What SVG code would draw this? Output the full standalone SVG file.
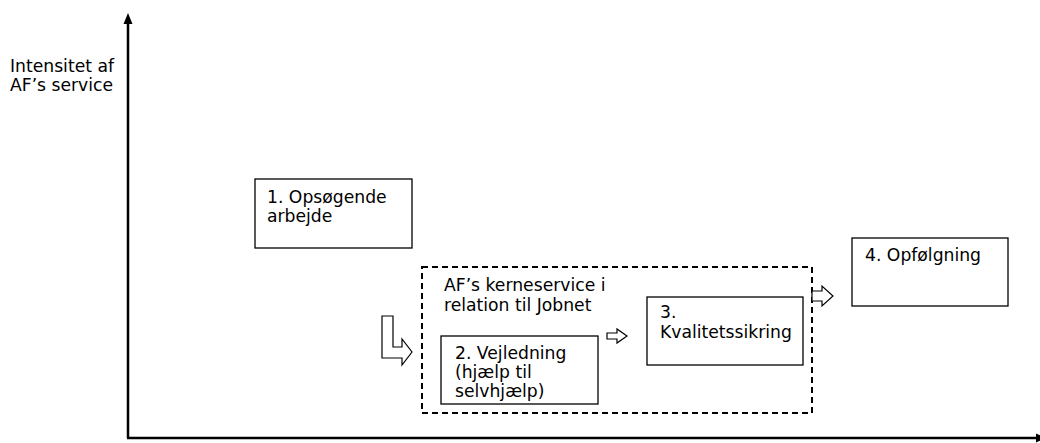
<svg xmlns="http://www.w3.org/2000/svg" width="1040" height="443" viewBox="0 0 1040 443">
<style>
text{font-family:"DejaVu Sans",Verdana,sans-serif;font-size:17.2px;fill:#000}
.box{fill:#fff;stroke:#000;stroke-width:1.3}
.dash{fill:none;stroke:#000;stroke-width:2;stroke-dasharray:6,4}
.axis{stroke:#000;stroke-width:2.5;fill:none}
.blk{stroke:#000;stroke-width:1.2;fill:#fff}
</style>
<rect width="1040" height="443" fill="#fff"/>
<g id="axes">
<line class="axis" x1="128" y1="22" x2="128" y2="438"/>
<polygon points="128,13 123.5,24 132.5,24" fill="#000"/>
<line class="axis" x1="127" y1="438" x2="1036" y2="438"/>
<polygon points="1046,438 1036,433.5 1036,442.5" fill="#000"/>
</g>
<g id="axis-label">
<text x="10" y="72">Intensitet af</text>
<text x="10" y="91">AF’s service</text>
</g>
<g id="node1">
<rect class="box" x="255" y="179" width="157" height="69"/>
<text x="267" y="203">1. Opsøgende</text>
<text x="267" y="222">arbejde</text>
</g>
<g id="group-core">
<rect class="dash" x="422" y="267" width="390" height="146"/>
<text x="444" y="291">AF’s kerneservice i</text>
<text x="444" y="311">relation til Jobnet</text>
</g>
<g id="node2">
<rect class="box" x="441" y="336" width="157" height="68"/>
<text x="455" y="359">2. Vejledning</text>
<text x="455" y="378">(hjælp til</text>
<text x="455" y="397">selvhjælp)</text>
</g>
<g id="node3">
<rect class="box" x="647" y="297" width="156" height="68"/>
<text x="660" y="318">3.</text>
<text x="660" y="338">Kvalitetssikring</text>
</g>
<g id="node4">
<rect class="box" x="852" y="238" width="156" height="68"/>
<text x="865" y="261">4. Opfølgning</text>
</g>
<g id="connectors">
<polygon class="blk" points="382,316 393,316 393,347 402,347 402,339 412,352 402,365 402,358 382,358"/>
<polygon class="blk" points="607,333 617,333 617,329 627,336 617,343 617,339 607,339"/>
<polygon class="blk" points="812,291 822,291 822,286 833,296 822,306 822,301 812,301"/>
</g>
</svg>
